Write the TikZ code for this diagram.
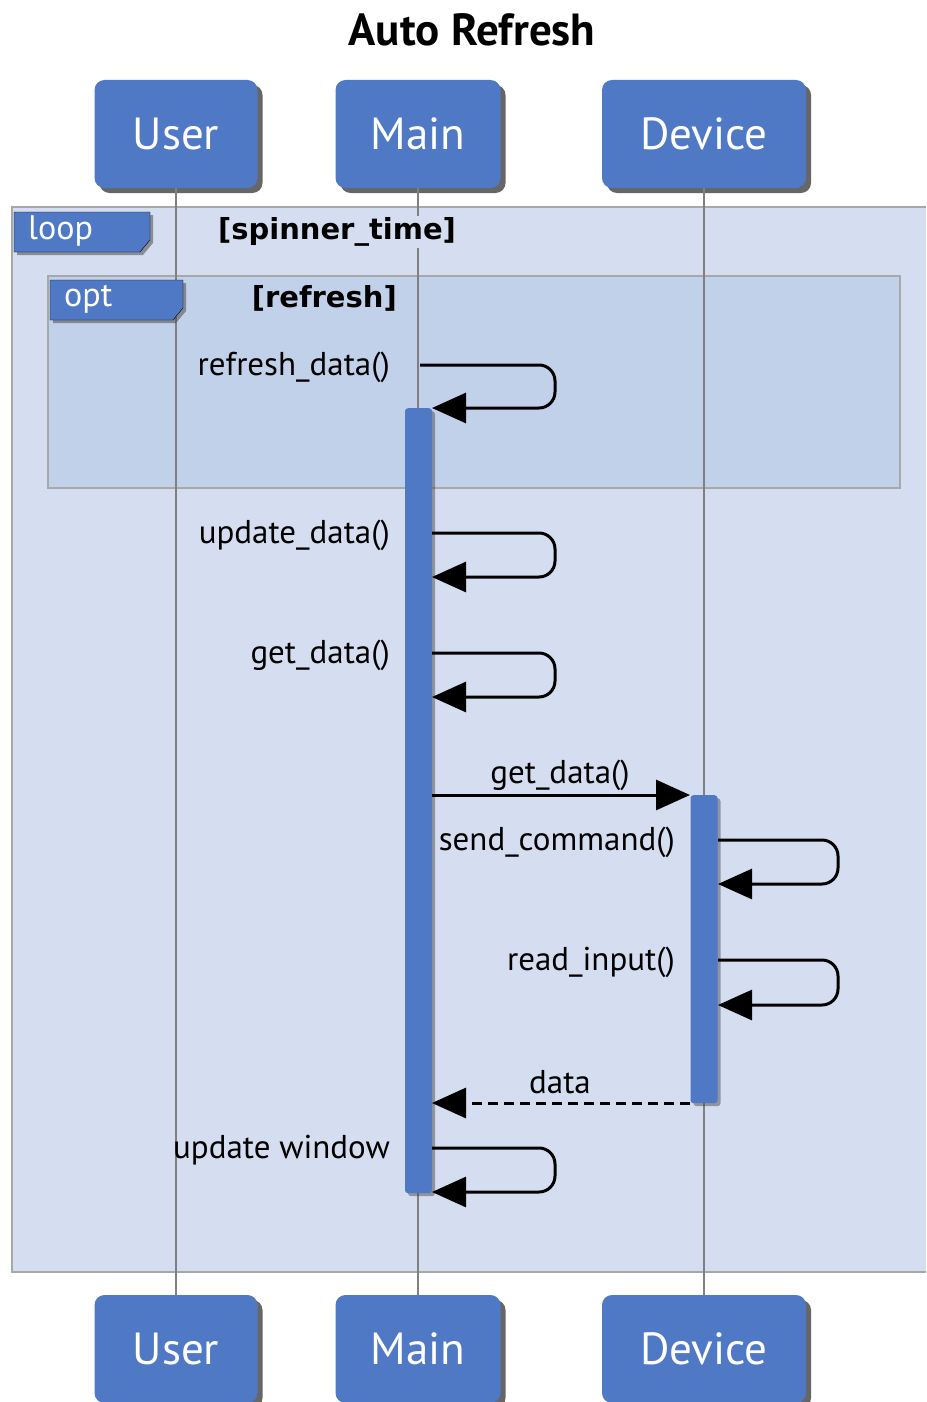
\documentclass[tikz,border=0pt]{standalone}
\usepackage{fontspec}
\setmainfont{PT Sans}
\newfontfamily\guardfont{DejaVu Sans}
\usetikzlibrary{arrows.meta,shadows}
\definecolor{boxblue}{HTML}{4F79C4}
\definecolor{loopbg}{HTML}{D5DEF0}
\definecolor{optbg}{HTML}{C2D1EA}
\definecolor{framegray}{HTML}{A8A8A8}
\definecolor{lifegray}{HTML}{808080}
\tikzset{
  actor/.style={rectangle, rounded corners=10pt, fill=boxblue, text=white,
    minimum height=108pt, font=\fontsize{45}{48}\selectfont,
    drop shadow={shadow xshift=5pt, shadow yshift=-5pt, opacity=.8, fill=black!75}},
  lifeline/.style={lifegray, line width=2.5pt},
  actbar/.style={rectangle, fill=boxblue, rounded corners=3pt, minimum width=27pt,
    inner sep=0pt, anchor=north,
    drop shadow={shadow xshift=3pt, shadow yshift=-3pt, opacity=.5, fill=black!70}},
  frame/.style={draw=framegray, line width=2pt},
  tab/.style={fill=boxblue, drop shadow={shadow xshift=3pt, shadow yshift=-3pt, opacity=.55, fill=black!70}},
  tabtext/.style={text=white, font=\fontsize{34}{36}\selectfont, inner sep=0pt},
  guard/.style={font=\guardfont\bfseries\fontsize{29}{32}\selectfont, inner sep=2pt},
  msg/.style={line width=3pt, -{Triangle[length=34pt,width=30pt]}},
  selfmsg/.style={msg, rounded corners=16pt},
  reply/.style={msg, dash pattern=on 10pt off 6pt},
  lbl/.style={font=\fontsize{33}{35}\selectfont, inner sep=0pt}
}

\begin{document}
\begin{tikzpicture}[x=1pt,y=-1pt]
  \useasboundingbox (0,0) rectangle (926,1402);

  \node[font=\bfseries\fontsize{45}{48}\selectfont] (title) at (472,30) {Auto Refresh};

  % loop and opt frames
  \fill[loopbg] (12,207) rectangle (926,1272);
  \draw[frame] (926,207) -- (12,207) -- (12,1272) -- (926,1272);
  \filldraw[frame, fill=optbg] (48,276) rectangle (900,488);

  % participants
  \node[actor, minimum width=163pt] (userTop) at (176,134) {User};
  \node[actor, minimum width=165pt] (mainTop) at (418,134) {Main};
  \node[actor, minimum width=204pt] (devTop)  at (704,134) {Device};
  \node[actor, minimum width=163pt] (userBot) at (176,1349) {User};
  \node[actor, minimum width=165pt] (mainBot) at (418,1349) {Main};
  \node[actor, minimum width=204pt] (devBot)  at (704,1349) {Device};

  \draw[lifeline] (userTop) -- (userBot);
  \draw[lifeline] (mainTop) -- (mainBot);
  \draw[lifeline] (devTop) -- (devBot);

  % frame tabs and guards
  \filldraw[tab] (14,212) -- (150,212) -- (150,240) -- (140,252) -- (14,252) -- cycle;
  \node[tabtext, anchor=west] (loopLbl) at (28,231) {loop};
  \node[guard, fill=loopbg] (loopGuard) at (337,232) {[spinner\_time]};
  \filldraw[tab] (50,280) -- (183,280) -- (183,308) -- (173,320) -- (50,320) -- cycle;
  \node[tabtext, anchor=west] (optLbl) at (64,299) {opt};
  \node[guard, anchor=east] (optGuard) at (399,298) {[refresh]};

  % activations
  \node[actbar, minimum height=785pt] (mainAct) at (418.5,408) {};
  \node[actbar, minimum height=308pt] (devAct) at (704,795) {};

  % messages
  \coordinate (m1a) at (420,365);
  \coordinate (m1b) at (432,408);
  \draw[selfmsg] (m1a) -- (555,365) -- (555,408) -- (m1b);
  \node[lbl, anchor=east] (m1) at (390,367) {refresh\_data()};

  \coordinate (m2a) at (432,533);
  \coordinate (m2b) at (432,577);
  \draw[selfmsg] (m2a) -- (555,533) -- (555,577) -- (m2b);
  \node[lbl, anchor=east] (m2) at (390,535) {update\_data()};

  \coordinate (m3a) at (432,653);
  \coordinate (m3b) at (432,697);
  \draw[selfmsg] (m3a) -- (555,653) -- (555,697) -- (m3b);
  \node[lbl, anchor=east] (m3) at (390,655) {get\_data()};

  \coordinate (m4a) at (432,795);
  \coordinate (m4b) at (690,795);
  \draw[msg] (m4a) -- (m4b);
  \node[lbl] (m4) at (560,775) {get\_data()};

  \coordinate (m5a) at (718,840);
  \coordinate (m5b) at (718,884);
  \draw[selfmsg] (m5a) -- (838,840) -- (838,884) -- (m5b);
  \node[lbl, anchor=east] (m5) at (675,842) {send\_command()};

  \coordinate (m6a) at (718,960);
  \coordinate (m6b) at (718,1005);
  \draw[selfmsg] (m6a) -- (838,960) -- (838,1005) -- (m6b);
  \node[lbl, anchor=east] (m6) at (675,962) {read\_input()};

  \coordinate (m7a) at (690,1103);
  \coordinate (m7b) at (432,1103);
  \draw[reply] (m7a) -- (m7b);
  \node[lbl] (m7) at (560,1082) {data};

  \coordinate (m8a) at (432,1148);
  \coordinate (m8b) at (432,1192);
  \draw[selfmsg] (m8a) -- (555,1148) -- (555,1192) -- (m8b);
  \node[lbl, anchor=east] (m8) at (390,1150) {update window};
\end{tikzpicture}
\end{document}
